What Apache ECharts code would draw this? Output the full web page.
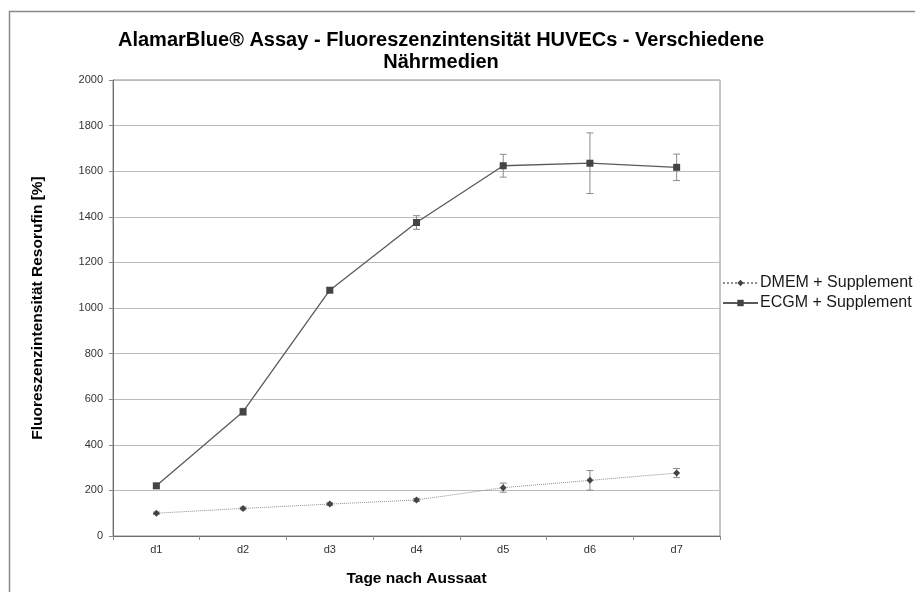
<!DOCTYPE html>
<html>
<head>
<meta charset="utf-8">
<script src="https://cdn.jsdelivr.net/npm/echarts@6/dist/echarts.min.js"></script>
<style>
html,body{margin:0;padding:0;background:#fff;}
#chart{width:915px;height:592px;}
</style>
</head>
<body>
<div id="chart"></div>
<script>
var categories = ['d1', 'd2', 'd3', 'd4', 'd5', 'd6', 'd7'];
var seriesNames = ['DMEM + Supplement', 'ECGM + Supplement'];
var dmemValues = [100, 121, 140, 158, 212, 244, 276];
var dmemErrors = [5, 6, 6, 7, 20, 43, 20];
var ecgmValues = [220, 545, 1078, 1375, 1624, 1635, 1617];
var ecgmErrors = [10, 15, 10, 30, 50, 133, 58];
var yTicks = [0, 200, 400, 600, 800, 1000, 1200, 1400, 1600, 1800, 2000];

var chart = echarts.init(document.getElementById('chart'));

function errorData(vals, errs) {
  return vals.map(function (v, i) { return [i, v - errs[i], v + errs[i]]; });
}
function errorSeries(vals, errs) {
  return {
    type: 'custom',
    silent: true,
    z: 1,
    data: errorData(vals, errs),
    renderItem: function (params, api) {
      var x = api.value(0);
      var lo = api.coord([x, api.value(1)]);
      var hi = api.coord([x, api.value(2)]);
      var w = 3.5;
      var st = { stroke: '#8c8c8c', lineWidth: 1 };
      return {
        type: 'group',
        children: [
          { type: 'line', shape: { x1: lo[0], y1: lo[1], x2: hi[0], y2: hi[1] }, style: st },
          { type: 'line', shape: { x1: lo[0] - w, y1: lo[1], x2: lo[0] + w, y2: lo[1] }, style: st },
          { type: 'line', shape: { x1: hi[0] - w, y1: hi[1], x2: hi[0] + w, y2: hi[1] }, style: st }
        ]
      };
    }
  };
}

var option = {
  backgroundColor: '#ffffff',
  animation: false,
  textStyle: { fontFamily: 'Liberation Sans, Arial, sans-serif' },
  title: {
    text: 'AlamarBlue® Assay - Fluoreszenzintensität HUVECs - Verschiedene\nNährmedien',
    left: 441,
    textAlign: 'center',
    top: 29,
    padding: 0,
    textStyle: { fontSize: 20, fontWeight: 'bold', color: '#000', lineHeight: 22, fontFamily: 'Liberation Sans, Arial, sans-serif' }
  },
  graphic: [{
    type: 'rect',
    shape: { x: 9.5, y: 11.5, width: 920, height: 600 },
    style: { fill: 'none', stroke: '#8a8a8a', lineWidth: 1.5 },
    silent: true
  }],
  legend: {
    orient: 'vertical',
    left: 722,
    top: 275,
    padding: 0,
    itemWidth: 35,
    itemHeight: 8,
    itemGap: 4,
    textStyle: { fontSize: 16, color: '#1a1a1a', padding: [0, 0, 0, -3] },
    data: seriesNames
  },
  grid: { left: 113, right: 195, top: 80, bottom: 56, show: true, borderColor: '#8c8c8c', borderWidth: 1 },
  xAxis: {
    type: 'category',
    data: categories,
    boundaryGap: true,
    name: 'Tage nach Aussaat',
    nameLocation: 'middle',
    nameGap: 35,
    nameTextStyle: { fontSize: 15.5, fontWeight: 'bold', color: '#000' },
    axisLine: { lineStyle: { color: '#6e6e6e', width: 1 } },
    axisTick: { show: true, alignWithLabel: false, length: 4, lineStyle: { color: '#8c8c8c' } },
    axisLabel: { fontSize: 11, color: '#333', margin: 8 }
  },
  yAxis: {
    type: 'value',
    min: yTicks[0],
    max: yTicks[yTicks.length - 1],
    interval: 200,
    name: 'Fluoreszenzintensität Resorufin [%]',
    nameLocation: 'middle',
    nameGap: 67,
    nameTextStyle: { fontSize: 15.5, fontWeight: 'bold', color: '#000' },
    axisLine: { show: true, lineStyle: { color: '#6e6e6e', width: 1 } },
    axisTick: { show: true, length: 4, lineStyle: { color: '#8c8c8c' } },
    axisLabel: { fontSize: 11, color: '#333', margin: 10, formatter: function (v) { return String(v); } },
    splitLine: { lineStyle: { color: '#bcbcbc', width: 1.2 } }
  },
  series: [
    errorSeries(dmemValues, dmemErrors),
    errorSeries(ecgmValues, ecgmErrors),
    {
      name: seriesNames[0],
      type: 'line',
      data: dmemValues,
      z: 3,
      symbol: 'diamond',
      symbolSize: 7,
      lineStyle: { color: '#8f8f8f', width: 1, type: 'dotted' },
      itemStyle: { color: '#444444', borderWidth: 0 }
    },
    {
      name: seriesNames[1],
      type: 'line',
      data: ecgmValues,
      z: 3,
      symbol: 'rect',
      symbolSize: 7,
      lineStyle: { color: '#5a5a5a', width: 1.3, type: 'solid' },
      itemStyle: { color: '#444444', borderWidth: 0 }
    }
  ]
};
chart.setOption(option);
</script>
</body>
</html>
